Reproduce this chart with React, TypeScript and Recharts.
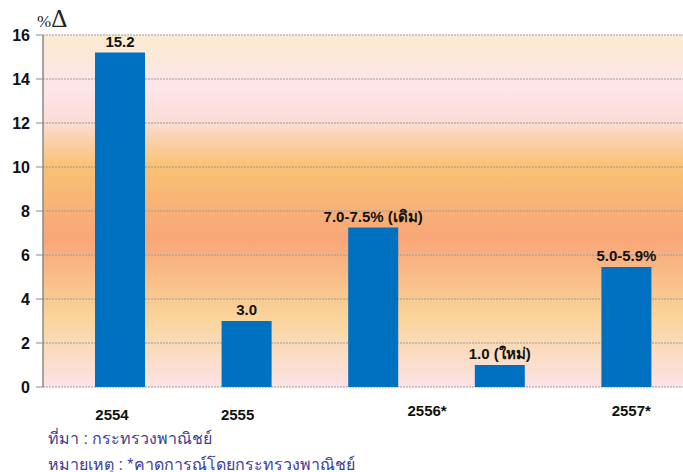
import { Bar, BarChart, CartesianGrid, LabelList, XAxis, YAxis } from 'recharts'

const categories = ['2554', '2555', '2556 old', '2556 new', '2557']
const growth = [15.2, 3.0, 7.25, 1.0, 5.45]
const barLabels = ['15.2', '3.0', '7.0-7.5% (เดิม)', '1.0 (ใหม่)', '5.0-5.9%']
const tickLabels = ['2554', '2555', '2556*', '', '2557*']
const yTicks = [0, 2, 4, 6, 8, 10, 12, 14, 16]

// per-tick horizontal nudge (label text starts here relative to band centre)
const tickDx = [-25, -26, 34, 0, -15]
const tickDy = [0, 0, -4, 0, -4]

const data = categories.map((c, i) => ({ cat: c, value: growth[i], label: barLabels[i] }))

const FONT = 'Arial, "Liberation Sans", "Noto Sans", sans-serif'

function CategoryTick(props: any) {
  const { x, y, payload } = props
  const i = payload.index
  const text = tickLabels[i]
  if (!text) return null
  return (
    <text
      x={x + tickDx[i]}
      y={y + 25 + tickDy[i]}
      textAnchor="start"
      fontFamily={FONT}
      fontWeight="bold"
      fontSize={15}
      fill="#111"
    >
      {text}
    </text>
  )
}

function TopLabel(props: any) {
  const { x, y, width, value } = props
  return (
    <text
      x={Number(x) + Number(width) / 2}
      y={Number(y) - 6}
      textAnchor="middle"
      fontFamily={FONT}
      fontWeight="bold"
      fontSize={15}
      fill="#111"
    >
      {value}
    </text>
  )
}

export default function App() {
  return (
    <div style={{ position: 'absolute', left: 0, top: 0, width: 683, height: 472, overflow: 'hidden', background: '#fff' }}>
      <BarChart
        width={690}
        height={472}
        data={data}
        margin={{ top: 35, right: 0, left: 0, bottom: 55 }}
        barCategoryGap={0}
      >
        <defs>
          <linearGradient id="bgGrad" x1="0" y1="0" x2="0" y2="1">
            <stop offset="0%" stopColor="#FBEBD0" />
            <stop offset="15%" stopColor="#FDE5EA" />
            <stop offset="24%" stopColor="#FCDDD8" />
            <stop offset="37%" stopColor="#F9C274" />
            <stop offset="58%" stopColor="#F8A678" />
            <stop offset="80%" stopColor="#FAD49A" />
            <stop offset="100%" stopColor="#FCE3E6" />
          </linearGradient>
        </defs>
        <CartesianGrid
          vertical={false}
          fill="url(#bgGrad)"
          fillOpacity={1}
          stroke="#9a9a9a"
          strokeDasharray="2 1"
        />
        <XAxis
          dataKey="cat"
          height={30}
          axisLine={false}
          tickLine={false}
          padding={{ left: 14, right: 0 }}
          tick={<CategoryTick />}
          interval={0}
        />
        <YAxis
          width={43}
          domain={[0, 16]}
          ticks={yTicks}
          interval={0}
          axisLine={{ stroke: '#8a8a8a', strokeWidth: 1.5 }}
          tickLine={{ stroke: '#8a8a8a' }}
          tickSize={7}
          tickMargin={6}
          tick={{ fontFamily: FONT, fontWeight: 'bold', fontSize: 16, fill: '#111' }}
        />
        <Bar dataKey="value" fill="#0070C0" barSize={50} isAnimationActive={false}>
          <LabelList dataKey="label" content={<TopLabel />} />
        </Bar>
      </BarChart>
      <div style={{ position: 'absolute', left: 37, top: 6, fontFamily: '"Liberation Serif", "DejaVu Serif", serif', color: '#222', lineHeight: 1 }}>
        <span style={{ fontSize: 17 }}>%</span>
        <span style={{ fontSize: 25 }}>Δ</span>
      </div>
      <div style={{ position: 'absolute', left: 48, top: 426, fontFamily: FONT, fontSize: 16, color: '#3c3c98', lineHeight: '26px' }}>
        <div>ที่มา : กระทรวงพาณิชย์</div>
        <div>หมายเหตุ : *คาดการณ์โดยกระทรวงพาณิชย์</div>
      </div>
    </div>
  )
}
